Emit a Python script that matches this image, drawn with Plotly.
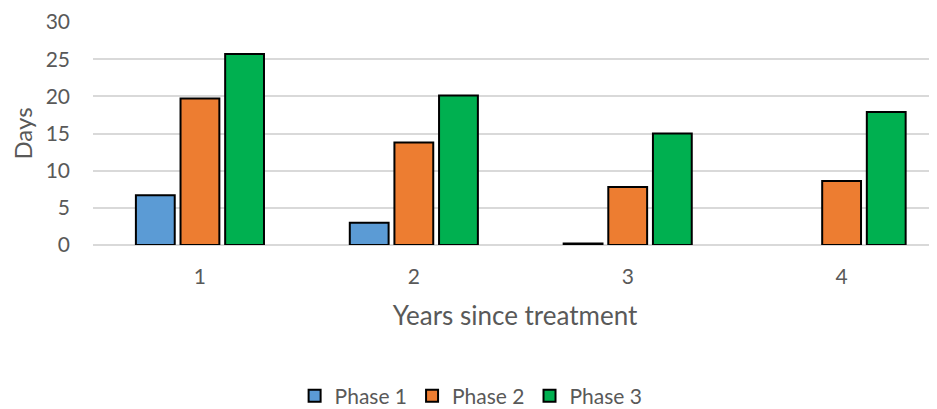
import plotly.graph_objects as go

years = ["1", "2", "3", "4"]
phase1 = [6.7, 3.0, 0.2, None]
phase2 = [19.7, 13.8, 7.8, 8.6]
phase3 = [25.7, 20.1, 15.0, 17.9]

series = [("Phase 1", phase1, "#5B9BD5"), ("Phase 2", phase2, "#ED7D31"), ("Phase 3", phase3, "#00B050")]

fig = go.Figure()
for name, vals, col in series:
    fig.add_trace(go.Bar(x=years, y=vals, name=name, marker=dict(color=col, line=dict(color="#000000", width=2))))

txt = "#595959"
fig.update_layout(
    width=929, height=401,
    margin=dict(l=84.5, r=0, t=13.7, b=163.7, autoexpand=False),
    paper_bgcolor="white", plot_bgcolor="white",
    font=dict(family="Lato, Open Sans, sans-serif", color=txt, size=21),
    barmode="group", bargap=0.374, bargroupgap=0.13,
    showlegend=True,
    legend=dict(orientation="h", x=0.448, xanchor="center", y=-0.678, yanchor="middle",
                font=dict(size=21, color=txt), itemsizing="constant", tracegroupgap=0,
                itemwidth=30),
    xaxis=dict(range=[-0.5, 3.446], showgrid=False, showline=False, ticks="", automargin=False,
               tickfont=dict(size=21, color=txt), ticklabelstandoff=17,
               title=dict(text="Years since treatment", font=dict(size=26, color=txt), standoff=19)),
    yaxis=dict(range=[0, 30], dtick=5, showgrid=True, gridcolor="#D9D9D9", gridwidth=2, automargin=False,
               zeroline=True, zerolinecolor="#D9D9D9", zerolinewidth=2, showline=False,
               ticks="", tickfont=dict(size=21, color=txt), ticklabelstandoff=22,
               title=dict(text="Days", font=dict(size=24, color=txt), standoff=12)),
)
fig.write_html("out.html")
